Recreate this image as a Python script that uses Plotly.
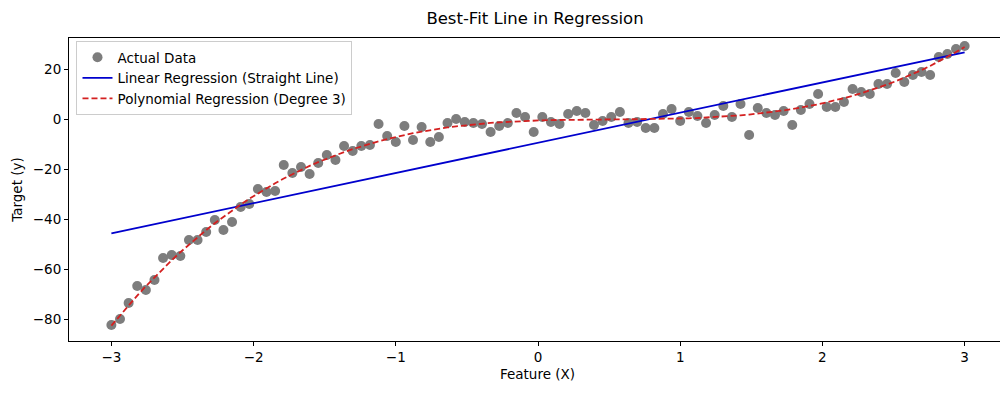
import numpy as np
import plotly.graph_objects as go

x_values = np.linspace(-3, 3, 100)
y_values = [
    -82.4, -80.0, -73.6, -66.8, -68.4, -64.4, -55.6, -54.4, -54.8, -48.4,
    -48.4, -45.2, -40.4, -44.4, -41.2, -35.2, -34.0, -28.0, -29.2, -28.8,
    -18.4, -21.6, -19.2, -22.0, -17.6, -14.4, -16.4, -10.8, -12.8, -10.8,
    -10.4, -2.0, -6.8, -9.2, -2.8, -8.4, -3.2, -9.2, -7.2, -1.6,
    0.0, -1.2, -1.6, -2.0, -5.2, -2.8, -1.6, 2.4, 0.8, -5.2,
    0.8, -1.2, -2.0, 2.0, 3.2, 2.4, -2.4, -0.8, 0.8, 2.8,
    -1.6, -1.2, -3.6, -3.6, 2.0, 4.0, -0.8, 2.8, 1.2, -1.6,
    1.6, 5.2, 0.8, 6.0, -6.4, 4.4, 2.4, 1.6, 3.2, -2.4,
    3.6, 6.0, 10.0, 4.8, 4.8, 6.8, 12.0, 10.8, 10.0, 14.0,
    14.0, 18.4, 14.8, 17.6, 18.8, 17.6, 24.8, 26.0, 28.0, 29.2,
]
x_ticks = [-3, -2, -1, 0, 1, 2, 3]
y_ticks = [-80, -60, -40, -20, 0, 20]

y_arr = np.array(y_values)
lin = np.polyval(np.polyfit(x_values, y_arr, 1), x_values)
poly = np.polyval(np.polyfit(x_values, y_arr, 3), x_values)

fig = go.Figure()
fig.add_trace(go.Scatter(x=x_values, y=y_values, mode="markers", name="Actual Data",
                         marker=dict(color="rgb(125,125,125)", size=10, line=dict(width=0))))
fig.add_trace(go.Scatter(x=x_values, y=lin, mode="lines", name="Linear Regression (Straight Line)",
                         line=dict(color="#0000cd", width=1.8)))
fig.add_trace(go.Scatter(x=x_values, y=poly, mode="lines", name="Polynomial Regression (Degree 3)",
                         line=dict(color="#d42020", width=1.8, dash="6px,3px")))

axis_common = dict(showgrid=False, zeroline=False, showline=True, linecolor="black", linewidth=1,
                   mirror=True, ticks="outside", ticklen=4, tickcolor="black",
                   tickfont=dict(size=13.5, color="black"))
fig.update_layout(
    width=1000, height=385,
    margin=dict(l=61, r=2, t=30, b=52),
    plot_bgcolor="white", paper_bgcolor="white",
    font=dict(family="DejaVu Sans", color="black", size=13.5),
    title=dict(text="Best-Fit Line in Regression", x=0.527, xanchor="center", y=0.974, yanchor="middle",
               font=dict(size=16.5)),
    xaxis=dict(range=[-3.298, 3.291], tickvals=x_ticks, ticktext=["−3", "−2", "−1", "0", "1", "2", "3"],
               title=dict(text="Feature (X)", font=dict(size=13.5), standoff=5), **axis_common),
    yaxis=dict(range=[-88.8, 32.4], tickvals=y_ticks, ticktext=["−80", "−60", "−40", "−20", "0", "20"],
               title=dict(text="Target (y)", font=dict(size=13.5), standoff=7), **axis_common),
    legend=dict(x=0.008, y=0.99, xanchor="left", yanchor="top", bgcolor="rgba(255,255,255,0.8)",
                bordercolor="#cccccc", borderwidth=1, font=dict(size=13.5), tracegroupgap=0,
                itemwidth=30),
    showlegend=True,
)

fig.write_html("out.html")
